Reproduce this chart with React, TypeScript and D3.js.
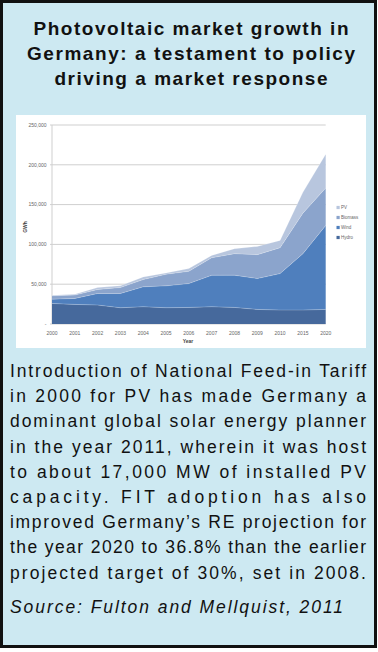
import React from "react";
import * as d3 from "d3";

const years = ["2000","2001","2002","2003","2004","2005","2006","2007","2008","2009","2010","2015","2020"];
const hydro = [25800, 24600, 23800, 20400, 21700, 20400, 20800, 21700, 20800, 18300, 17500, 17500, 18300];
const wind = [5400, 7500, 14500, 17900, 25000, 27500, 30000, 39500, 40500, 38800, 45800, 70800, 105500];
const biomass = [4200, 4200, 5000, 7500, 9100, 14600, 15400, 22000, 27000, 30000, 32500, 50900, 47000];
const pv = [800, 1200, 2500, 2100, 3400, 1700, 3400, 3000, 6300, 10400, 9200, 26200, 42500];
const seriesNames = ["Hydro", "Wind", "Biomass", "PV"];
const seriesColors = ["#46699c", "#4f7fbd", "#8ba4cc", "#b8c6de"];
const yTicks = [0, 50000, 100000, 150000, 200000, 250000];
const legendOrder = ["PV", "Biomass", "Wind", "Hydro"];

const titleLines = [
  "Photovoltaic market growth in",
  "Germany: a testament to policy",
  "driving a market response",
];
const titleWidths = [315, 328, 273];

const bodyLines = [
  "Introduction of National Feed-in Tariff",
  "in 2000 for PV has made Germany a",
  "dominant global solar energy planner",
  "in the year 2011, wherein it was host",
  "to about 17,000 MW of installed PV",
  "capacity. FIT adoption has also",
  "improved Germany\u2019s RE projection for",
  "the year 2020 to 36.8% than the earlier",
  "projected target of 30%, set in 2008.",
];
const sourceText = "Source: Fulton and Mellquist, 2011";

export default function App() {
  const W = 378, H = 652;
  const x = d3.scalePoint<string>().domain(years).range([52, 325.7]);
  const y = d3.scaleLinear().domain([0, 250000]).range([324, 125]);
  const rows = years.map((yr, i) => ({
    year: yr, Hydro: hydro[i], Wind: wind[i], Biomass: biomass[i], PV: pv[i],
  }));
  const stack = d3.stack<any>().keys(seriesNames)(rows);
  const area = d3.area<any>()
    .x((d) => x(d.data.year) as number)
    .y0((d) => y(d[0]))
    .y1((d) => y(d[1]));
  const topLine = d3.line<any>()
    .x((d) => x(d.data.year) as number)
    .y((d) => y(d[1]));
  const fmt = (v: number) => (v === 0 ? "-" : d3.format(",")(v));
  const font = "'Liberation Sans', Arial, sans-serif";

  return (
    <svg width={W} height={H} style={{ position: "absolute", left: 0, top: 0 }} fontFamily={font}>
      <rect x={1.5} y={1.5} width={374} height={645} fill="#cde9f2" stroke="#111" strokeWidth={3} />
      {titleLines.map((t, i) => (
        <text key={i} x={191} y={35 + i * 25} textAnchor="middle" fontWeight="bold" fontSize={19}
          fill="#111" textLength={titleWidths[i]} lengthAdjust="spacing">{t}</text>
      ))}
      <rect x={16} y={115} width={350} height={233} fill="#ffffff" />
      {yTicks.map((t) => (
        <g key={t}>
          <line x1={50} x2={325.7} y1={y(t)} y2={y(t)} stroke="#cfcfcf" strokeWidth={1} />
          <text x={46.5} y={y(t) + 1.8} textAnchor="end" fontSize={5} fill="#666">{fmt(t)}</text>
        </g>
      ))}
      <line x1={52} x2={52} y1={125} y2={324} stroke="#cfcfcf" strokeWidth={1} />
      {stack.map((s, i) => (
        <path key={s.key} d={area(s) as string} fill={seriesColors[i]} />
      ))}
      {stack.map((s, i) => (
        <path key={"l" + s.key} d={topLine(s) as string} fill="none" stroke="rgba(255,255,255,0.3)" strokeWidth={0.7} />
      ))}
      {years.map((yr) => (
        <text key={yr} x={x(yr) as number} y={334.5} textAnchor="middle" fontSize={5} fill="#666">{yr}</text>
      ))}
      <text x={188} y={342.5} textAnchor="middle" fontSize={5} fontWeight="bold" fill="#444">Year</text>
      <text transform="translate(27,227) rotate(-90)" textAnchor="middle" fontSize={5} fontWeight="bold" fill="#444">GWh</text>
      {legendOrder.map((name, i) => {
        const ci = seriesNames.indexOf(name);
        const ly = 207.5 + i * 10;
        return (
          <g key={name}>
            <rect x={336.5} y={ly - 1.6} width={3.2} height={3.2} fill={seriesColors[ci]} />
            <text x={341} y={ly + 1.6} fontSize={4.5} fill="#666">{name}</text>
          </g>
        );
      })}
      {bodyLines.map((t, i) => (
        <text key={i} x={10} y={377 + i * 25.2} fontSize={17.5} fill="#111"
          textLength={356} lengthAdjust="spacing">{t}</text>
      ))}
      <text x={10} y={613} fontSize={17.5} fontStyle="italic" fill="#111"
        textLength={333} lengthAdjust="spacing">{sourceText}</text>
    </svg>
  );
}
